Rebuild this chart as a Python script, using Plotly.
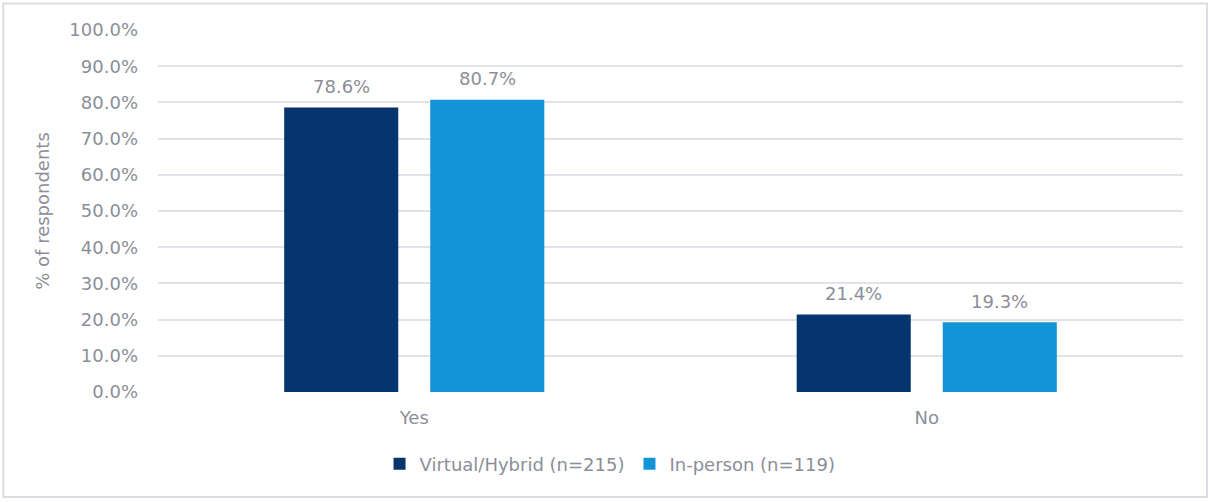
import plotly.graph_objects as go

categories = ["Yes", "No"]
virtual_hybrid = [78.6, 21.4]
in_person = [80.7, 19.3]
series_names = ["Virtual/Hybrid (n=215)", "In-person (n=119)"]
y_ticks = [0, 10, 20, 30, 40, 50, 60, 70, 80, 90, 100]
y_tick_labels = [f"{v:.1f}%" for v in y_ticks]

NAVY = "#06346f"
SKY = "#1394d8"
TEXT = "#8b8e98"
GRID = "#e2e2e8"
FONT = "DejaVu Sans"

fig = go.Figure()
for name, vals, color in [(series_names[0], virtual_hybrid, NAVY),
                          (series_names[1], in_person, SKY)]:
    fig.add_trace(go.Bar(x=categories, y=vals, name=name,
                         marker=dict(color=color, line=dict(width=0))))

# value labels above each bar
for vals, shift in [(virtual_hybrid, -73), (in_person, 73)]:
    for cat, v in zip(categories, vals):
        fig.add_annotation(x=cat, y=v, text=f"{v:.1f}%", showarrow=False,
                           xshift=shift, yshift=21,
                           font=dict(family=FONT, size=18, color=TEXT))

# outer chart frame
fig.add_shape(type="rect", xref="paper", yref="paper",
              x0=-0.151, x1=1.0234, y0=-0.29, y1=1.073,
              line=dict(color="#dcdce2", width=2), fillcolor="rgba(0,0,0,0)")

fig.update_layout(
    width=1209, height=502,
    margin=dict(l=158, r=26, t=30, b=110),
    paper_bgcolor="white", plot_bgcolor="white",
    barmode="group", bargap=0.43, bargroupgap=0.219,
    font=dict(family=FONT, size=18, color=TEXT),
    showlegend=True,
    legend=dict(orientation="h", x=0.441, xanchor="center", y=-0.148, yanchor="top",
                font=dict(family=FONT, size=18, color=TEXT),
                itemwidth=30, traceorder="normal"),
)
fig.update_yaxes(range=[0, 100], tickvals=y_ticks, ticktext=y_tick_labels,
                 showgrid=True, gridcolor=GRID, gridwidth=2,
                 zeroline=False, showline=False, ticks="",
                 ticklabelstandoff=19,
                 title=dict(text="% of respondents", standoff=15,
                            font=dict(family=FONT, size=18, color=TEXT)))
fig.update_xaxes(showgrid=False, showline=False, ticks="", ticklabelstandoff=13)

fig.write_html("out.html")
